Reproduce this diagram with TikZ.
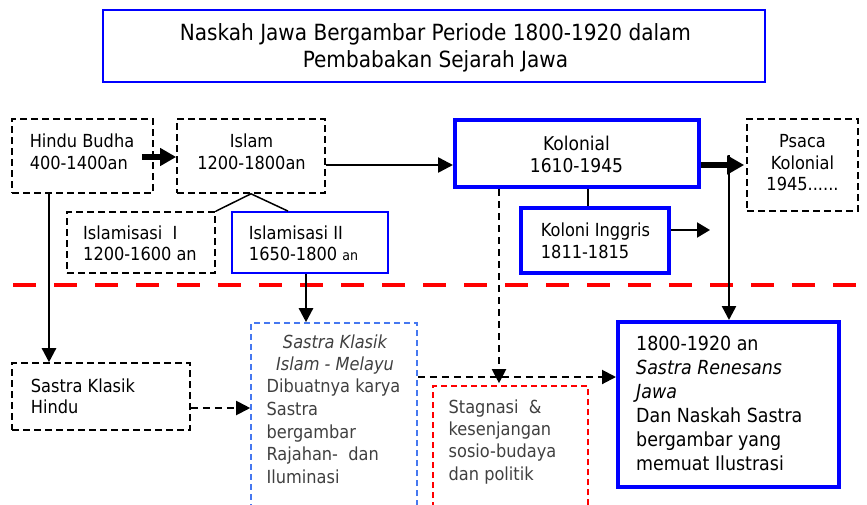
\documentclass[tikz,border=0pt]{standalone}
\usepackage{fontspec}
\setmainfont{DejaVu Sans Condensed}[ItalicFont={DejaVu Sans Condensed Oblique}]
\usetikzlibrary{arrows.meta}
\definecolor{bl}{RGB}{0,0,255}
\definecolor{lbl}{RGB}{70,120,240}
\definecolor{rd}{RGB}{255,0,0}
\definecolor{gtxt}{RGB}{64,64,64}
\begin{document}
\begin{tikzpicture}[x=1pt,y=-1pt,
  bx/.style={draw, rectangle, inner sep=0pt},
  dbox/.style={bx, line width=1.6pt, dash pattern=on 7pt off 4pt},
  thinb/.style={bx, draw=bl, line width=1.8pt},
  thickb/.style={bx, draw=bl, line width=4pt},
  txt/.style={inner sep=0pt, font=\fontsize{18}{21.8}\selectfont},
  conn/.style={line width=2.5pt},
  tipm/.style={-{Triangle[length=14pt,width=14pt]}},
  dconn/.style={line width=2pt, dash pattern=on 7pt off 5pt}
]
\useasboundingbox (0,0) rectangle (867,504);
% title
\node[thinb, minimum width=662pt, minimum height=72pt] (title) at (434,46) {};
\node[txt, font=\fontsize{22.3}{26.7}\selectfont, align=center] (titlet) at (435.5,47.7) {Naskah Jawa Bergambar Periode 1800-1920 dalam\\Pembabakan Sejarah Jawa};
% top row
\node[dbox, minimum width=141pt, minimum height=74pt] (hindu) at (82.5,156) {};
\node[txt, align=left] (hindut) at (82,151.9) {Hindu Budha\\400-1400an};
\node[dbox, minimum width=148pt, minimum height=74pt] (islam) at (251,156) {};
\node[txt, align=center] (islamt) at (251.5,151.5) {Islam\\1200-1800an};
\node[thickb, minimum width=244pt, minimum height=67pt] (kol) at (577,153.5) {};
\node[txt, align=center, font=\fontsize{19}{22.5}\selectfont] (kolt) at (576.5,154.3) {Kolonial\\1610-1945};
\node[dbox, minimum width=111pt, minimum height=92pt] (psaca) at (802.5,165) {};
\node[txt, align=center] (psacat) at (802.5,162.6) {Psaca\\Kolonial\\1945......};
% second row
\node[thickb, minimum width=148pt, minimum height=65pt] (ki) at (595,240.5) {};
\node[txt, align=left] (kit) at (595.5,240.7) {Koloni Inggris\\1811-1815};
\node[dbox, minimum width=148pt, minimum height=61pt] (isl1) at (141,242.5) {};
\node[txt, align=left] (isl1t) at (140,243.2) {Islamisasi~ I\\1200-1600 an};
\node[thinb, minimum width=156pt, minimum height=61pt] (isl2) at (310,242.5) {};
\node[txt, align=left] (isl2t) at (303.5,243.2) {Islamisasi II\\1650-1800 {\fontsize{14}{14}\selectfont an}};
% bottom row
\node[dbox, minimum width=178pt, minimum height=67pt] (skh) at (101,396.5) {};
\node[txt, align=left] (skht) at (83,396.2) {Sastra Klasik\\Hindu};
\node[bx, draw=lbl, line width=1.6pt, dash pattern=on 6pt off 4pt, minimum width=166pt, minimum height=207pt] (ski) at (334,426.5) {};
\node[txt, text=gtxt, align=center, font=\fontsize{18}{22.5}\selectfont\itshape] (skit1) at (335,354.6) {Sastra Klasik\\Islam - Melayu};
\node[txt, text=gtxt, align=left, font=\fontsize{18}{22.6}\selectfont] (skit2) at (333.5,431.3) {Dibuatnya karya\\Sastra\\bergambar\\Rajahan-~ dan\\Iluminasi};
\node[bx, draw=rd, line width=1.6pt, dash pattern=on 6pt off 4pt, minimum width=155pt, minimum height=144pt] (stag) at (510.5,458) {};
\node[txt, text=gtxt, align=left, font=\fontsize{18}{22.3}\selectfont] (stagt) at (502.5,441.8) {Stagnasi~ \&\\kesenjangan\\sosio-budaya\\dan politik};
\node[thickb, minimum width=221pt, minimum height=165pt] (ren) at (728.5,404.5) {};
\node[txt, align=left, font=\fontsize{19.4}{24}\selectfont] (rent) at (719.3,403.4) {1800-1920 an\\\textit{Sastra Renesans}\\\textit{Jawa}\\Dan Naskah Sastra\\bergambar yang\\memuat Ilustrasi};
% helper coordinates
\coordinate (yA) at (0,157);
\coordinate (yB) at (0,165);
\coordinate (yC) at (0,230);
\coordinate (yD) at (0,377);
\coordinate (yE) at (0,408);
\coordinate (xK) at (588,0);
\coordinate (xD) at (499,0);
\coordinate (xH) at (49,0);
\coordinate (xI) at (306,0);
\coordinate (vtop) at (729,155);
\coordinate (kiend) at (710,230);
\coordinate (rl) at (13,285);
\coordinate (rr) at (867,285);
% red separator
\draw[draw=rd, line width=4.7pt, dash pattern=on 23pt off 18pt] (rl) -- (rr);
% connectors
\draw[line width=5.5pt, -{Triangle[length=16pt,width=17pt]}] ([xshift=-12pt]hindu.east |- yA) -- (islam.west |- yA);
\draw[line width=2.5pt, -{Triangle[length=15pt,width=15pt]}] (islam.east |- yB) -- (kol.west |- yB);
\draw[line width=6pt, -{Triangle[length=17pt,width=18pt]}] (kol.east |- yB) -- ([xshift=-2pt]psaca.west |- yB);
\draw[conn, tipm] (vtop) -- (vtop |- ren.north);
\draw[line width=1.5pt] (kol.south -| xK) -- (ki.north -| xK);
\draw[line width=2pt, -{Triangle[length=13pt,width=15pt]}] (ki.east |- yC) -- (kiend);
\draw[dconn, tipm] (kol.south -| xD) -- ([yshift=2pt]stag.north -| xD);
\draw[line width=1.5pt] (isl1.north east) -- (islam.south) -- ([xshift=-22pt]isl2.north);
\draw[conn, tipm] (hindu.south -| xH) -- (skh.north -| xH);
\draw[conn, tipm] (isl2.south -| xI) -- (ski.north -| xI);
\draw[dconn, tipm] (skh.east |- yE) -- (ski.west |- yE);
\draw[dconn, tipm] (ski.east |- yD) -- (ren.west |- yD);
\end{tikzpicture}
\end{document}
